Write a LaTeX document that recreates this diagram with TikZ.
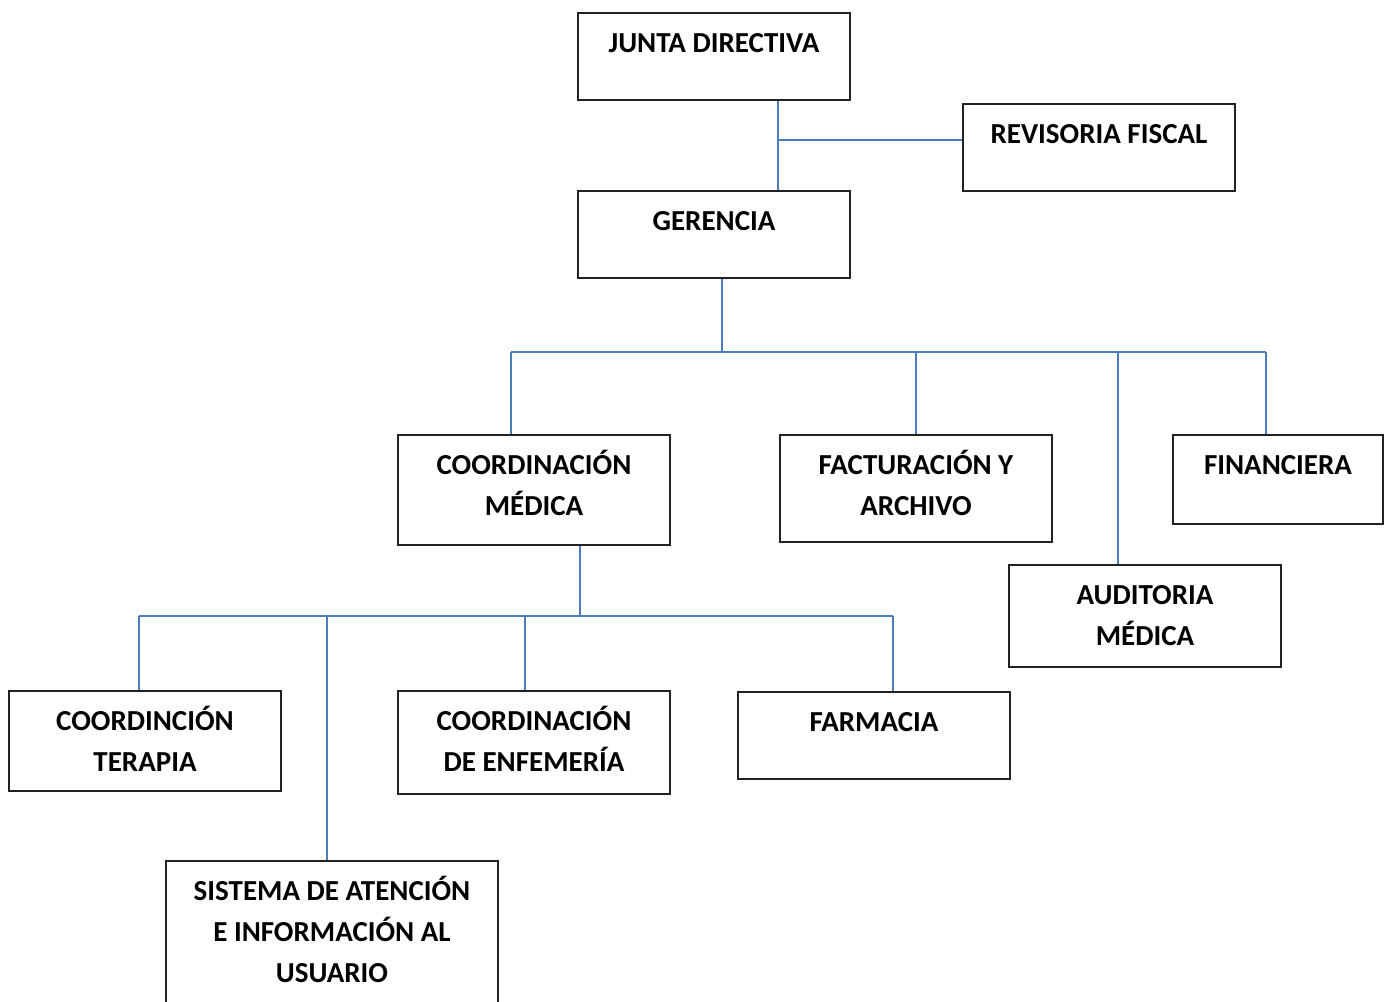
\documentclass[tikz,border=0pt]{standalone}
\usepackage{fontspec}
\setmainfont{Carlito}
\usetikzlibrary{fit}
\definecolor{linkblue}{HTML}{4A7EBB}
\definecolor{boxline}{HTML}{222222}
\newcommand{\fs}{\rule{0pt}{14pt}}
\begin{document}
\begin{tikzpicture}[x=0.5pt,y=-0.5pt,
  box/.style={draw=boxline, line width=0.8pt, inner sep=0pt, rectangle},
  lbl/.style={font=\bfseries\fontsize{14.5}{20.5}\selectfont, align=center, inner sep=0pt, anchor=north, yshift=-6pt},
  conn/.style={draw=linkblue, line width=1pt}]
\useasboundingbox (0,0) rectangle (1388,1002);
\clip (0,0) rectangle (1388,1002);
% boxes
\node[box, fit={(578,13) (850,100)}, label={[lbl]north:\fs JUNTA DIRECTIVA}] (junta) {};
\node[box, fit={(963,104) (1235,191)}, label={[lbl]north:\fs REVISORIA FISCAL}] (revisoria) {};
\node[box, fit={(578,191) (850,278)}, label={[lbl]north:\fs GERENCIA}] (gerencia) {};
\node[box, fit={(398,435) (670,545)}, label={[lbl]north:\fs COORDINACIÓN\\MÉDICA}] (cmed) {};
\node[box, fit={(780,435) (1052,542)}, label={[lbl]north:\fs FACTURACIÓN Y\\ARCHIVO}] (fact) {};
\node[box, fit={(1173,435) (1383,524)}, label={[lbl]north:\fs FINANCIERA}] (fin) {};
\node[box, fit={(1009,565) (1281,667)}, label={[lbl]north:\fs AUDITORIA\\MÉDICA}] (aud) {};
\node[box, fit={(9,691) (281,791)}, label={[lbl]north:\fs COORDINCIÓN\\TERAPIA}] (ter) {};
\node[box, fit={(398,691) (670,794)}, label={[lbl]north:\fs COORDINACIÓN\\DE ENFEMERÍA}] (enf) {};
\node[box, fit={(738,692) (1010,779)}, label={[lbl]north:\fs FARMACIA}] (farm) {};
\node[box, fit={(166,861) (498,1012)}, label={[lbl]north:\fs SISTEMA DE ATENCIÓN\\E INFORMACIÓN AL\\USUARIO}] (sis) {};
% bus points
\coordinate (jx) at (778,140);
\coordinate (gb) at (722,352);
\coordinate (gbL) at (511,352);
\coordinate (gbF) at (916,352);
\coordinate (gbA) at (1118,352);
\coordinate (gbR) at (1266,352);
\coordinate (cb) at (580,616);
\coordinate (cbL) at (139,616);
\coordinate (cbS) at (327,616);
\coordinate (cbE) at (525,616);
\coordinate (cbR) at (893,616);
% connectors
\draw[conn] (junta.south -| jx) -- (gerencia.north -| jx);
\draw[conn] (jx) -- (revisoria.west |- jx);
\draw[conn] (gerencia.south -| gb) -- (gb);
\draw[conn] (gbL) -- (gbR);
\draw[conn] (gbL) -- (cmed.north -| gbL);
\draw[conn] (gbF) -- (fact.north -| gbF);
\draw[conn] (gbA) -- (aud.north -| gbA);
\draw[conn] (gbR) -- (fin.north -| gbR);
\draw[conn] (cmed.south -| cb) -- (cb);
\draw[conn] (cbL) -- (cbR);
\draw[conn] (cbL) -- (ter.north -| cbL);
\draw[conn] (cbS) -- (sis.north -| cbS);
\draw[conn] (cbE) -- (enf.north -| cbE);
\draw[conn] (cbR) -- (farm.north -| cbR);
\end{tikzpicture}
\end{document}
